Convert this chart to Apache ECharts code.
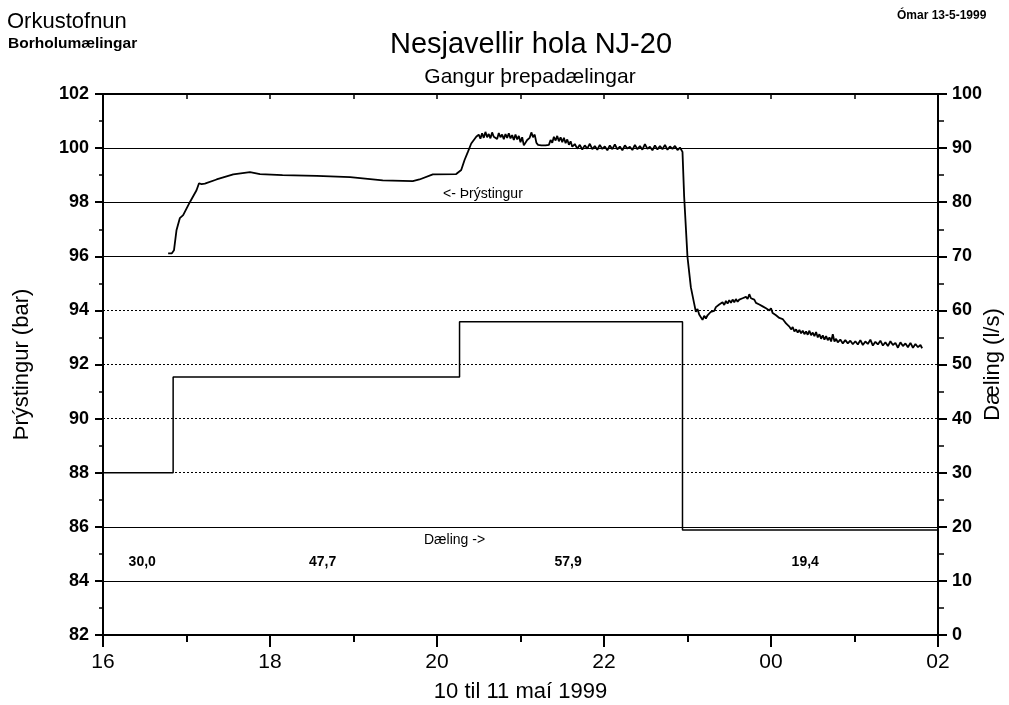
<!DOCTYPE html>
<html>
<head>
<meta charset="utf-8">
<title>Nesjavellir hola NJ-20</title>
<script src="https://cdn.jsdelivr.net/npm/echarts@6/dist/echarts.min.js"></script>
<style>
  html, body { margin: 0; padding: 0; background: #fff; }
  #main { width: 1009px; height: 705px; }
</style>
</head>
<body>
<div id="main"></div>
<script>
// þrýstingur (bar) - [klst, bar], 16 = kl 16:00, 24 = miðnætti
var pressure = [
  [16.78, 96.11], [16.825, 96.11], [16.85, 96.22], [16.88, 96.96], [16.92, 97.41],
  [16.96, 97.52], [17.04, 98.0], [17.12, 98.44], [17.15, 98.70], [17.18, 98.67],
  [17.22, 98.69], [17.36, 98.84], [17.56, 99.03], [17.76, 99.11], [17.88, 99.04],
  [18.15, 99.0], [18.56, 98.97], [18.96, 98.93], [19.35, 98.81], [19.71, 98.78],
  [19.79, 98.84], [19.95, 99.03], [20.23, 99.04], [20.29, 99.19], [20.33, 99.56],
  [20.37, 99.86], [20.41, 100.17], [20.47, 100.42],
  [20.50, 100.50], [20.52, 100.35], [20.54, 100.55], [20.56, 100.38], [20.58, 100.60],
  [20.60, 100.40], [20.62, 100.52], [20.64, 100.36], [20.66, 100.58], [20.68, 100.42],
  [20.70, 100.48], [20.72, 100.34], [20.74, 100.56], [20.76, 100.40], [20.78, 100.50],
  [20.80, 100.33], [20.82, 100.52], [20.84, 100.38], [20.86, 100.55], [20.88, 100.36],
  [20.90, 100.48], [20.92, 100.30], [20.94, 100.50], [20.96, 100.32], [20.98, 100.45],
  [21.00, 100.22], [21.02, 100.40], [21.04, 100.10], [21.06, 100.05], [21.08, 100.30],
  [21.11, 100.38], [21.13, 100.58], [21.15, 100.40], [21.17, 100.50], [21.19, 100.20],
  [21.21, 100.12], [21.25, 100.10], [21.30, 100.10], [21.34, 100.12], [21.36, 100.30],
  [21.38, 100.20], [21.40, 100.42], [21.42, 100.28], [21.44, 100.45], [21.46, 100.25],
  [21.48, 100.40], [21.50, 100.22], [21.52, 100.38], [21.54, 100.18], [21.56, 100.32],
  [21.58, 100.12], [21.60, 100.25], [21.62, 100.05], [21.65, 100.15], [21.68, 99.98],
  [21.71, 100.12], [21.74, 99.95], [21.77, 100.10], [21.80, 99.98], [21.83, 100.16],
  [21.86, 99.96], [21.89, 100.08], [21.92, 99.94], [21.95, 100.12], [21.98, 99.97],
  [22.01, 100.06], [22.04, 99.92], [22.07, 100.10], [22.10, 99.96], [22.13, 100.14],
  [22.16, 99.95], [22.19, 100.06], [22.22, 99.92], [22.25, 100.10], [22.28, 99.98],
  [22.31, 100.05], [22.34, 99.93], [22.37, 100.12], [22.40, 99.96], [22.43, 100.08],
  [22.46, 99.94], [22.49, 100.15], [22.52, 99.97], [22.55, 100.05], [22.58, 99.92],
  [22.61, 100.10], [22.64, 99.95], [22.67, 100.08], [22.70, 99.96], [22.73, 100.12],
  [22.76, 99.94], [22.79, 100.06], [22.82, 99.97], [22.85, 100.08], [22.88, 99.93],
  [22.91, 100.02], [22.94, 99.86],
  [22.96, 98.20], [23.00, 95.97], [23.04, 94.86], [23.08, 94.25], [23.10, 93.95],
  [23.12, 94.05], [23.14, 93.85], [23.16, 93.78], [23.18, 93.65], [23.20, 93.80],
  [23.22, 93.70], [23.24, 93.82], [23.26, 93.88], [23.28, 93.95], [23.30, 94.02],
  [23.32, 93.98], [23.34, 94.12], [23.36, 94.05], [23.38, 94.22], [23.40, 94.15],
  [23.42, 94.30], [23.44, 94.20], [23.46, 94.35], [23.48, 94.25], [23.50, 94.38],
  [23.52, 94.28], [23.54, 94.40], [23.56, 94.30], [23.58, 94.42], [23.60, 94.32],
  [23.62, 94.40], [23.64, 94.36], [23.66, 94.45], [23.68, 94.38], [23.70, 94.50],
  [23.72, 94.42], [23.74, 94.60], [23.76, 94.45], [23.78, 94.38], [23.80, 94.40],
  [23.82, 94.28], [23.84, 94.32], [23.86, 94.22], [23.88, 94.26], [23.90, 94.15],
  [23.92, 94.20], [23.94, 94.08], [23.96, 94.12], [23.98, 94.00], [24.00, 94.08],
  [24.02, 93.90], [24.04, 93.95], [24.06, 93.82], [24.08, 93.88], [24.10, 93.72],
  [24.12, 93.78], [24.14, 93.68], [24.16, 93.60], [24.18, 93.52], [24.20, 93.45],
  [24.22, 93.40], [24.24, 93.30], [24.26, 93.38], [24.28, 93.22], [24.30, 93.30],
  [24.32, 93.18], [24.34, 93.28], [24.36, 93.15], [24.38, 93.25], [24.40, 93.12],
  [24.42, 93.22], [24.44, 93.10], [24.46, 93.25], [24.48, 93.08], [24.50, 93.18],
  [24.52, 93.05], [24.54, 93.20], [24.56, 93.00], [24.58, 93.12], [24.60, 92.95],
  [24.62, 93.08], [24.64, 92.92], [24.66, 93.05], [24.68, 92.90], [24.70, 93.00],
  [24.72, 92.85], [24.74, 93.12], [24.76, 92.85], [24.78, 92.95], [24.80, 92.82],
  [24.83, 92.92], [24.86, 92.78], [24.89, 92.90], [24.92, 92.78], [24.95, 92.88],
  [24.98, 92.75], [25.01, 92.86], [25.04, 92.74], [25.07, 92.90], [25.10, 92.72],
  [25.13, 92.85], [25.16, 92.76], [25.19, 92.92], [25.22, 92.70], [25.25, 92.84],
  [25.28, 92.74], [25.31, 92.88], [25.34, 92.70], [25.37, 92.82], [25.40, 92.68],
  [25.43, 92.86], [25.46, 92.72], [25.49, 92.80], [25.52, 92.62], [25.55, 92.82],
  [25.58, 92.68], [25.61, 92.78], [25.64, 92.64], [25.67, 92.80], [25.70, 92.62],
  [25.73, 92.76], [25.76, 92.64], [25.79, 92.72], [25.81, 92.60]
];

// dæling (l/s), þrep
var flowTimes = [16, 16.84, 20.27, 22.94, 26];
var flowRates = [30.0, 47.7, 57.9, 19.4, 19.4];
var flowLabelTimes = [16.47, 18.63, 21.57, 24.41];
var flowLabelLevel = 13.5;

var solidGridLines = [100, 98, 96, 86, 84];

var fnt = 'Liberation Sans, Arial, sans-serif';

var flowData = flowTimes.map(function (t, i) { return [t, flowRates[i]]; });
var flowLabels = flowLabelTimes.map(function (t, i) {
  return { value: [t, flowLabelLevel], txt: flowRates[i].toFixed(1).replace('.', ',') };
});

var chart = echarts.init(document.getElementById('main'));

var option = {
  animation: false,
  backgroundColor: '#fff',
  grid: { left: 103, right: 71, top: 94, bottom: 70, containLabel: false, outerBoundsMode: 'none' },
  graphic: [
    { type: 'text', x: 7, y: 22, style: { text: 'Orkustofnun', font: '22px ' + fnt, fill: '#000', textVerticalAlign: 'middle' } },
    { type: 'text', x: 8, y: 44, style: { text: 'Borholumælingar', font: 'bold 15.5px ' + fnt, fill: '#000', textVerticalAlign: 'middle' } },
    { type: 'text', x: 897, y: 16, style: { text: 'Ómar 13-5-1999', font: 'bold 12px ' + fnt, fill: '#000', textVerticalAlign: 'middle' } },
    { type: 'text', x: 531, y: 45, style: { text: 'Nesjavellir hola NJ-20', font: '29px ' + fnt, fill: '#000', textAlign: 'center', textVerticalAlign: 'middle' } },
    { type: 'text', x: 530, y: 77, style: { text: 'Gangur þrepadælingar', font: '21px ' + fnt, fill: '#000', textAlign: 'center', textVerticalAlign: 'middle' } }
  ],
  xAxis: [
    {
      type: 'value', min: 16, max: 26, interval: 2, position: 'bottom',
      name: '10 til 11 maí 1999', nameLocation: 'middle', nameGap: 46, nameMoveOverlap: false,
      nameTextStyle: { fontFamily: fnt, fontSize: 22, color: '#000' },
      axisLine: { lineStyle: { color: '#000', width: 2 } },
      axisTick: { show: true, inside: false, length: 12, lineStyle: { color: '#000', width: 2 } },
      minorTick: { show: true, splitNumber: 2, length: 7, lineStyle: { color: '#000', width: 2 } },
      axisLabel: {
        margin: 17, fontFamily: fnt, fontSize: 21, color: '#000',
        formatter: function (v) { var h = v % 24; return (h < 10 ? '0' : '') + h; }
      },
      splitLine: { show: false }
    },
    {
      type: 'value', min: 16, max: 26, interval: 1, position: 'top',
      axisLine: { show: true, lineStyle: { color: '#000', width: 2 } },
      axisTick: { show: true, inside: true, length: 5, lineStyle: { color: '#000', width: 1.5 } },
      axisLabel: { show: false },
      splitLine: { show: false }
    }
  ],
  yAxis: [
    {
      type: 'value', min: 82, max: 102, interval: 2, position: 'left',
      name: 'Þrýstingur (bar)', nameLocation: 'middle', nameGap: 70, nameMoveOverlap: false,
      nameTextStyle: { fontFamily: fnt, fontSize: 22, color: '#000' },
      axisLine: { show: true, lineStyle: { color: '#000', width: 2 } },
      axisTick: { show: true, length: 8, lineStyle: { color: '#000', width: 2 } },
      minorTick: { show: true, splitNumber: 2, length: 4, lineStyle: { color: '#000', width: 1.5 } },
      axisLabel: { margin: 14, fontFamily: fnt, fontSize: 18, fontWeight: 'bold', color: '#000' },
      splitLine: { show: true, lineStyle: { color: '#000', width: 1, type: [2, 2] } }
    },
    {
      type: 'value', min: 0, max: 100, interval: 10, position: 'right',
      name: 'Dæling (l/s)', nameLocation: 'middle', nameGap: 44, nameMoveOverlap: false,
      nameTextStyle: { fontFamily: fnt, fontSize: 22, color: '#000' },
      axisLine: { show: true, lineStyle: { color: '#000', width: 2 } },
      axisTick: { show: true, length: 9, lineStyle: { color: '#000', width: 2 } },
      minorTick: { show: true, splitNumber: 2, length: 6, lineStyle: { color: '#000', width: 1.5 } },
      axisLabel: { margin: 14, fontFamily: fnt, fontSize: 18, fontWeight: 'bold', color: '#000' },
      splitLine: { show: false }
    }
  ],
  series: [
    {
      name: 'Þrýstingur', type: 'line', xAxisIndex: 0, yAxisIndex: 0,
      data: pressure, showSymbol: false, symbol: 'none',
      lineStyle: { color: '#000', width: 1.8 },
      markLine: {
        silent: true, symbol: 'none', label: { show: false },
        lineStyle: { color: '#000', width: 1, type: 'solid' },
        data: solidGridLines.map(function (v) { return { yAxis: v }; })
      },
      z: 3
    },
    {
      name: 'Dæling', type: 'line', xAxisIndex: 0, yAxisIndex: 1,
      data: flowData, step: 'end', showSymbol: false, symbol: 'none',
      lineStyle: { color: '#000', width: 1.5 },
      z: 3
    },
    {
      type: 'scatter', xAxisIndex: 0, yAxisIndex: 1, symbolSize: 0, silent: true,
      itemStyle: { opacity: 1 },
      data: flowLabels,
      label: {
        show: true, position: 'inside', fontFamily: fnt, fontSize: 14, fontWeight: 'bold', color: '#000', opacity: 1,
        formatter: function (p) { return p.data.txt; }
      }
    },
    {
      type: 'scatter', xAxisIndex: 0, yAxisIndex: 0, symbolSize: 0, silent: true,
      itemStyle: { opacity: 1 },
      data: [{ value: [20.55, 98.3], txt: '<- Þrýstingur' }],
      label: { show: true, position: 'inside', fontFamily: fnt, fontSize: 14, color: '#000', opacity: 1, formatter: function (p) { return p.data.txt; } }
    },
    {
      type: 'scatter', xAxisIndex: 0, yAxisIndex: 1, symbolSize: 0, silent: true,
      itemStyle: { opacity: 1 },
      data: [{ value: [20.21, 17.6], txt: 'Dæling ->' }],
      label: { show: true, position: 'inside', fontFamily: fnt, fontSize: 14, color: '#000', opacity: 1, formatter: function (p) { return p.data.txt; } }
    }
  ]
};

chart.setOption(option);
</script>
</body>
</html>
